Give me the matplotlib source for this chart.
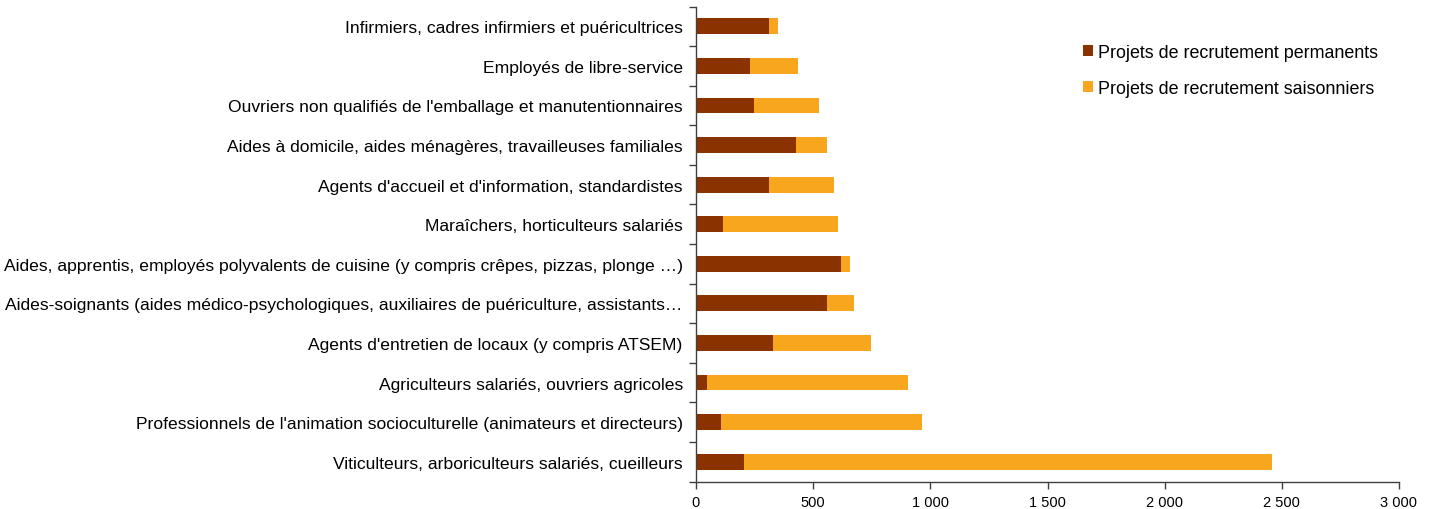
import matplotlib
matplotlib.use("Agg")
import matplotlib.pyplot as plt
from matplotlib.ticker import FuncFormatter, FixedLocator
import numpy as np

categories = [
    "Infirmiers, cadres infirmiers et puéricultrices",
    "Employés de libre-service",
    "Ouvriers non qualifiés de l'emballage et manutentionnaires",
    "Aides à domicile, aides ménagères, travailleuses familiales",
    "Agents d'accueil et d'information, standardistes",
    "Maraîchers, horticulteurs salariés",
    "Aides, apprentis, employés polyvalents de cuisine (y compris crêpes, pizzas, plonge …)",
    "Aides-soignants (aides médico-psychologiques, auxiliaires de puériculture, assistants…",
    "Agents d'entretien de locaux (y compris ATSEM)",
    "Agriculteurs salariés, ouvriers agricoles",
    "Professionnels de l'animation socioculturelle (animateurs et directeurs)",
    "Viticulteurs, arboriculteurs salariés, cueilleurs",
]
permanents = [310, 230, 246, 426, 310, 117, 617, 561, 328, 48, 106, 205]
saisonniers = [41, 207, 279, 131, 278, 490, 39, 113, 419, 858, 857, 2255]
series_names = ["Projets de recrutement permanents", "Projets de recrutement saisonniers"]
xticks = [0, 500, 1000, 1500, 2000, 2500, 3000]

c_perm = "#8A3300"
c_sais = "#F9A61F"

plt.rcParams['font.family'] = ['Liberation Sans', 'DejaVu Sans']

fig = plt.figure(figsize=(14.3, 5.1), dpi=100)
ax = fig.add_axes([696/1430, (510-482.5)/510, (1399-696)/1430, (482.5-7.5)/510])

y = np.arange(len(categories))
h = 0.4
ax.barh(y, permanents, height=h, color=c_perm, label=series_names[0])
ax.barh(y, saisonniers, left=permanents, height=h, color=c_sais, label=series_names[1])

ax.set_ylim(len(categories) - 0.5, -0.5)
ax.set_xlim(0, 3000)
ax.set_yticks(y)
ax.set_yticklabels(categories, fontsize=12.6)
ax.yaxis.set_minor_locator(FixedLocator(np.arange(-0.5, len(categories), 1)))
ax.tick_params(axis='y', which='major', length=0, pad=9.5)
ax.tick_params(axis='y', which='minor', length=5, width=1, color='#404040', direction='out')

ax.set_xticks(xticks)
ax.xaxis.set_major_formatter(FuncFormatter(lambda v, p: f"{int(v):,}".replace(",", " ")))
ax.tick_params(axis='x', length=5, width=1, color='#404040', labelsize=10.5, pad=5)

for s in ['top', 'right']:
    ax.spines[s].set_visible(False)
for s in ['left', 'bottom']:
    ax.spines[s].set_color('#404040')
    ax.spines[s].set_linewidth(1)

leg = fig.legend(loc='upper left', bbox_to_anchor=(1076/1430, 1 - 38/510), frameon=False,
                 fontsize=12.9, labelspacing=1.05, handlelength=0.55, handleheight=0.55,
                 handletextpad=0.3, borderaxespad=0)

fig.savefig("out.png", dpi=100)
